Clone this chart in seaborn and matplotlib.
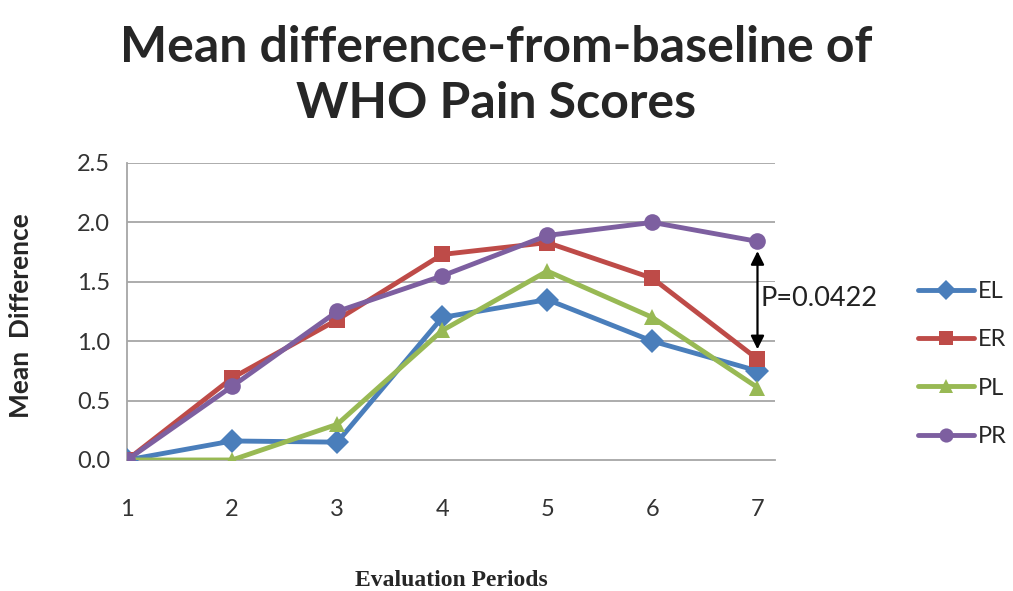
import matplotlib.pyplot as plt
import pandas as pd
import seaborn as sns

periods = [1, 2, 3, 4, 5, 6, 7]
el = [0.0, 0.16, 0.15, 1.2, 1.35, 1.0, 0.75]
er = [0.0, 0.69, 1.18, 1.73, 1.83, 1.53, 0.85]
pl = [0.0, 0.0, 0.3, 1.09, 1.59, 1.2, 0.61]
pr = [0.0, 0.62, 1.25, 1.55, 1.89, 2.0, 1.84]
groups = ["EL", "ER", "PL", "PR"]
y_ticks = [0.0, 0.5, 1.0, 1.5, 2.0, 2.5]

colors = {"EL": "#4a7ebb", "ER": "#be4b48", "PL": "#98b954", "PR": "#7d5fa0"}
markers = {"EL": "D", "ER": "s", "PL": "^", "PR": "o"}

df = pd.DataFrame({"period": periods, "EL": el, "ER": er, "PL": pl, "PR": pr})
df = df.melt(id_vars="period", var_name="group", value_name="diff")

sns.set_style("white")
plt.rcParams["font.family"] = ["Lato", "DejaVu Sans"]

fig = plt.figure(figsize=(10.13, 5.91), dpi=100)
ax = fig.add_axes([0.1254, 0.2217, 0.640, 0.5025])

sns.lineplot(data=df, x="period", y="diff", hue="group", style="group",
             hue_order=groups, palette=colors, markers=markers, dashes=False,
             linewidth=3.5, markersize=12, markeredgewidth=0, ax=ax, zorder=3)

ax.set_xlim(1, 7.17)
ax.set_ylim(0, 2.5)
ax.set_xticks(periods)
ax.set_yticks(y_ticks)
ax.set_yticklabels([f"{t:.1f}" for t in y_ticks])
for t in y_ticks[1:]:
    ax.axhline(t, color="#a6a6a6", lw=1.3, zorder=1)
for s in ("top", "right"):
    ax.spines[s].set_visible(False)
for s in ("left", "bottom"):
    ax.spines[s].set_color("#a6a6a6")
    ax.spines[s].set_linewidth(1.3)
ax.tick_params(axis="x", direction="inout", length=12, color="#a6a6a6",
               width=1.3, labelsize=17, labelcolor="#333333", pad=22)
ax.tick_params(axis="y", length=0, labelsize=17, labelcolor="#333333", pad=12)
ax.set_xlabel("Evaluation Periods", family="Liberation Serif",
              fontweight="bold", fontsize=17, labelpad=36)
ax.set_ylabel("Mean  Difference", fontweight="bold", fontsize=19)
ax.yaxis.set_label_coords(-0.145, 0.485)

# significance arrow between ER and PR at period 7
ax.annotate("", xy=(7, er[-1]), xytext=(7, pr[-1]),
            arrowprops=dict(arrowstyle="<|-|>", color="black", lw=1.6,
                            mutation_scale=20, shrinkA=7, shrinkB=7), zorder=4)
ax.text(7.03, 1.36, "P=0.0422", fontsize=19.5, color="#222222", va="center",
        ha="left", clip_on=False,
        bbox=dict(facecolor="white", edgecolor="none", pad=3), zorder=2)

leg = ax.legend(loc="center left", bbox_to_anchor=(0.906, 0.384),
                bbox_transform=fig.transFigure, frameon=False, borderpad=0,
                borderaxespad=0, fontsize=17, handlelength=2.4,
                labelspacing=1.15, handletextpad=0.15, markerscale=0.85)

fig.suptitle("Mean difference-from-baseline of\nWHO Pain Scores",
             fontsize=36, fontweight="bold", x=0.49, y=0.958,
             linespacing=1.3)

fig.savefig("out.png", dpi=100)
